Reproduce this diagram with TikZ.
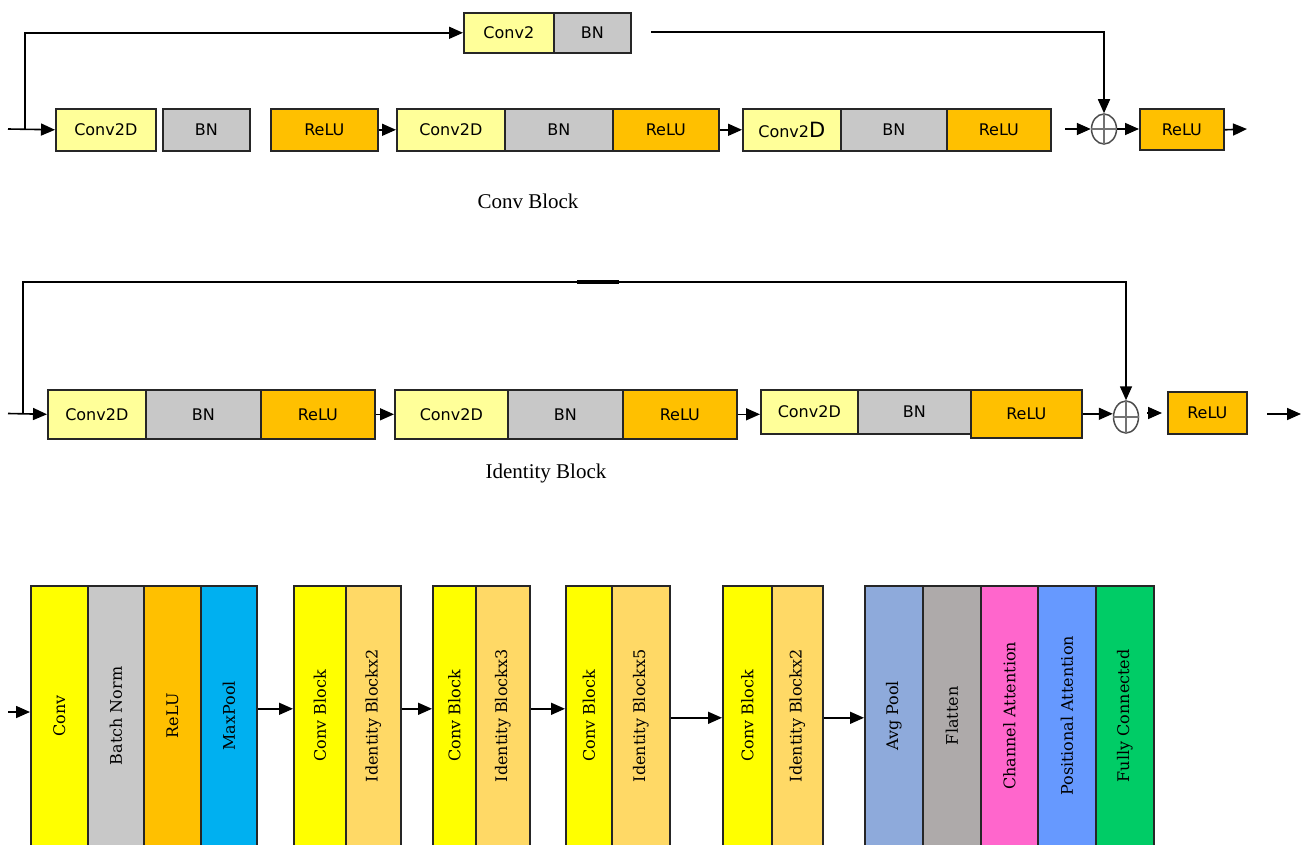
\documentclass[tikz,border=0pt]{standalone}
\usepackage{fontspec}
\setmainfont{DejaVu Serif}
\newfontfamily\boxfont{DejaVu Sans}
\newfontfamily\labfont{Liberation Serif}
\usetikzlibrary{arrows.meta,shapes.geometric}
\definecolor{convL}{HTML}{FFFF99}
\definecolor{bnG}{HTML}{C8C8C8}
\definecolor{reluO}{HTML}{FFC000}
\definecolor{convY}{HTML}{FFFF00}
\definecolor{maxC}{HTML}{00B0F0}
\definecolor{idO}{HTML}{FFD966}
\definecolor{avgB}{HTML}{8EAADB}
\definecolor{flatG}{HTML}{AEAAAA}
\definecolor{chanP}{HTML}{FF66CC}
\definecolor{posB}{HTML}{6699FF}
\definecolor{fcG}{HTML}{00CC66}
\begin{document}
\begin{tikzpicture}[x=1pt,y=-1pt,
  blk/.style={draw=black!85, line width=1.6pt, inner sep=0pt, anchor=north west,
    font=\boxfont\fontsize{16}{18}\selectfont},
  vblk/.style={draw=black!85, line width=1.6pt, inner sep=0pt, anchor=north west,
    minimum height=280pt},
  vtext/.style={rotate=90, inner sep=0pt, font=\fontsize{16}{18}\selectfont},
  lab/.style={font=\labfont\fontsize{21}{24}\selectfont},
  arr/.style={line width=1.6pt, -{Triangle[length=14pt,width=12pt]}},
  sumop/.style={ellipse, draw=black!70, line width=1.5pt, minimum width=25pt,
    minimum height=30pt, inner sep=0pt},
  plusl/.style={draw=black!55, line width=1.2pt}
]
\useasboundingbox (0,0) rectangle (1305,845);
\clip (0,0) rectangle (1305,845);

% ---------------- Conv Block ----------------
\node[blk, fill=convL, minimum width=90pt, minimum height=40pt] (s1) at (463,12) {Conv2};
\node[blk, fill=bnG, minimum width=77pt, minimum height=40pt] (s2) at (553,12) {BN};

\node[blk, fill=convL, minimum width=100pt, minimum height=42pt] (a1) at (55,108) {Conv2D};
\node[blk, fill=bnG, minimum width=87pt, minimum height=42pt] (a2) at (162,108) {BN};
\node[blk, fill=reluO, minimum width=107pt, minimum height=42pt] (a3) at (270,108) {ReLU};
\node[blk, fill=convL, minimum width=108pt, minimum height=42pt] (a4) at (396,108) {Conv2D};
\node[blk, fill=bnG, minimum width=108pt, minimum height=42pt] (a5) at (504,108) {BN};
\node[blk, fill=reluO, minimum width=106pt, minimum height=42pt] (a6) at (612,108) {ReLU};
\node[blk, fill=convL, minimum width=98pt, minimum height=42pt] (a7) at (742,108) {Conv2{\fontsize{21}{21}\selectfont D}};
\node[blk, fill=bnG, minimum width=106pt, minimum height=42pt] (a8) at (840,108) {BN};
\node[blk, fill=reluO, minimum width=104pt, minimum height=42pt] (a9) at (946,108) {ReLU};
\node[sumop] (c1) at (1104,129) {};
\draw[plusl] (c1.north) -- (c1.south) (c1.west) -- (c1.east);
\node[blk, fill=reluO, minimum width=84pt, minimum height=41pt] (a10) at (1139,108.5) {ReLU};

\coordinate (in1) at (8,129);
\coordinate (br1) at (25,129);
\coordinate (sk1) at (651,32);
\coordinate (j1) at (1065,129);
\coordinate (o1) at (1247,129);
\draw[arr] (in1) -- (a1.west);
\draw[arr] (br1) |- (s1.west);
\draw[arr] (a3.east) -- (a4.west);
\draw[arr] (a6.east) -- (a7.west);
\draw[arr] (j1) -- (c1.west);
\draw[arr] (c1.east) -- (c1.east -| a10.west);
\draw[arr] (a10.east) -- (o1);
\draw[arr] (sk1) -| (c1.north);

\node[lab] (lcb) at (528,201) {Conv Block};

% ---------------- Identity Block ----------------
\node[blk, fill=convL, minimum width=98pt, minimum height=49pt] (b1) at (47,389) {Conv2D};
\node[blk, fill=bnG, minimum width=115pt, minimum height=49pt] (b2) at (145,389) {BN};
\node[blk, fill=reluO, minimum width=114pt, minimum height=49pt] (b3) at (260,389) {ReLU};
\node[blk, fill=convL, minimum width=113pt, minimum height=49pt] (b4) at (394,389) {Conv2D};
\node[blk, fill=bnG, minimum width=115pt, minimum height=49pt] (b5) at (507,389) {BN};
\node[blk, fill=reluO, minimum width=114pt, minimum height=49pt] (b6) at (622,389) {ReLU};
\node[blk, fill=convL, minimum width=97pt, minimum height=44pt] (b7) at (760,389) {Conv2D};
\node[blk, fill=bnG, minimum width=113pt, minimum height=44pt] (b8) at (857,389) {BN};
\node[blk, fill=reluO, minimum width=111pt, minimum height=48pt] (b9) at (970,389) {ReLU};
\node[sumop, minimum height=32pt] (c2) at (1126,417) {};
\draw[plusl] (c2.north) -- (c2.south) (c2.west) -- (c2.east);
\node[blk, fill=reluO, minimum width=79pt, minimum height=42pt] (b10) at (1167,391) {ReLU};

\coordinate (in2) at (8,413.5);
\coordinate (br2) at (23,413.5);
\coordinate (sk2) at (23,282);
\coordinate (t1) at (1147,413);
\coordinate (t2) at (1162,413);
\coordinate (o2a) at (1267,414);
\coordinate (o2b) at (1301,414);
\draw[arr] (in2) -- (b1.west);
\draw[arr] (br2) -- (sk2) -| (c2.north);
\draw[line width=3.2pt] (577,282) -- (619,282);
\draw[arr] (b3.east) -- (b4.west);
\draw[arr] (b6.east) -- (b6.east -| b7.west);
\draw[arr] (b9.east) -- (b9.east -| c2.west);
\draw[arr] (t1) -- (t2);
\draw[arr] (o2a) -- (o2b);

\node[lab] (lib) at (546,473) {Identity Block};

% ---------------- Network ----------------
\node[vblk, fill=convY, minimum width=57pt] (r1) at (30,585) {};
\node[vblk, fill=bnG, minimum width=56pt] (r2) at (87,585) {};
\node[vblk, fill=reluO, minimum width=57pt] (r3) at (143,585) {};
\node[vblk, fill=maxC, minimum width=56pt] (r4) at (200,585) {};
\node[vblk, fill=convY, minimum width=52pt] (r5) at (293,585) {};
\node[vblk, fill=idO, minimum width=55pt] (r6) at (345,585) {};
\node[vblk, fill=convY, minimum width=43pt] (r7) at (432,585) {};
\node[vblk, fill=idO, minimum width=54pt] (r8) at (475,585) {};
\node[vblk, fill=convY, minimum width=46pt] (r9) at (565,585) {};
\node[vblk, fill=idO, minimum width=58pt] (r10) at (611,585) {};
\node[vblk, fill=convY, minimum width=49pt] (r11) at (722,585) {};
\node[vblk, fill=idO, minimum width=51pt] (r12) at (771,585) {};
\node[vblk, fill=avgB, minimum width=58pt] (r13) at (864,585) {};
\node[vblk, fill=flatG, minimum width=58pt] (r14) at (922,585) {};
\node[vblk, fill=chanP, minimum width=57pt] (r15) at (980,585) {};
\node[vblk, fill=posB, minimum width=58pt] (r16) at (1037,585) {};
\node[vblk, fill=fcG, minimum width=58pt] (r17) at (1095,585) {};

\node[vtext] (q1) at ([yshift=10pt]r1.center) {Conv};
\node[vtext] (q2) at ([yshift=10pt]r2.center) {Batch Norm};
\node[vtext] (q3) at ([yshift=10pt]r3.center) {ReLU};
\node[vtext] (q4) at ([yshift=10pt]r4.center) {MaxPool};
\node[vtext] (q5) at ([yshift=10pt]r5.center) {Conv Block};
\node[vtext] (q6) at ([yshift=10pt]r6.center) {Identity Blockx2};
\node[vtext] (q7) at ([yshift=10pt]r7.center) {Conv Block};
\node[vtext] (q8) at ([yshift=10pt]r8.center) {Identity Blockx3};
\node[vtext] (q9) at ([yshift=10pt]r9.center) {Conv Block};
\node[vtext] (q10) at ([yshift=10pt]r10.center) {Identity Blockx5};
\node[vtext] (q11) at ([yshift=10pt]r11.center) {Conv Block};
\node[vtext] (q12) at ([yshift=10pt]r12.center) {Identity Blockx2};
\node[vtext] (q13) at ([yshift=10pt]r13.center) {Avg Pool};
\node[vtext] (q14) at ([yshift=10pt]r14.center) {Flatten};
\node[vtext] (q15) at ([yshift=10pt]r15.center) {Channel Attention};
\node[vtext] (q16) at ([yshift=10pt]r16.center) {Positional Attention};
\node[vtext] (q17) at ([yshift=10pt]r17.center) {Fully Connected};

\coordinate (in3) at (8,712);
\draw[arr] (in3) -- (in3 -| r1.west);
\draw[arr] ([yshift=17pt]r4.east) -- ([yshift=17pt]r5.west);
\draw[arr] ([yshift=17pt]r6.east) -- ([yshift=17pt]r7.west);
\draw[arr] ([yshift=17pt]r8.east) -- ([yshift=17pt]r9.west);
\draw[arr] ([yshift=8pt]r10.east) -- ([yshift=8pt]r11.west);
\draw[arr] ([yshift=8pt]r12.east) -- ([yshift=8pt]r13.west);
\end{tikzpicture}
\end{document}
